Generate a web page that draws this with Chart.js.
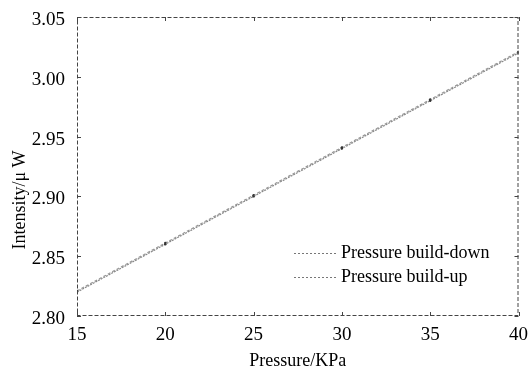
<!DOCTYPE html>
<html>
<head>
<meta charset="utf-8">
<script src="https://cdn.jsdelivr.net/npm/chart.js@4/dist/chart.umd.min.js"></script>
<style>
  html, body { margin: 0; padding: 0; background: #fff; }
  #wrap { width: 528px; height: 372px; }
</style>
</head>
<body>
<div id="wrap"><canvas id="c"></canvas></div>
<script>
const pressure = [15, 20, 25, 30, 35, 40];
const buildDown = [2.820, 2.860, 2.900, 2.940, 2.980, 3.020];
const buildUp = [2.821, 2.861, 2.901, 2.941, 2.981, 3.021];
const seriesNames = ['Pressure build-down', 'Pressure build-up'];
const yTicks = [2.80, 2.85, 2.90, 2.95, 3.00, 3.05];
const yTitle = 'Intensity/\u03bc W';

const FONT = '"Liberation Serif", "DejaVu Serif", serif';

// frame, inward ticks, y title and the legend inside the plot
const framePlugin = {
    id: 'frame',
    afterDraw(chart) {
        const ctx = chart.ctx;
        const a = chart.chartArea;
        const xs = chart.scales.x, ys = chart.scales.y;
        ctx.save();
        ctx.strokeStyle = '#444';
        ctx.lineWidth = 1;
        ctx.setLineDash([4, 2]);
        ctx.strokeRect(a.left + 0.5, a.top + 0.5, a.right - a.left - 1, a.bottom - a.top - 1);
        ctx.setLineDash([]);
        pressure.forEach(v => {
            const px = Math.round(xs.getPixelForValue(v)) + 0.5;
            ctx.beginPath();
            ctx.moveTo(px, a.bottom); ctx.lineTo(px, a.bottom - 4);
            ctx.moveTo(px, a.top); ctx.lineTo(px, a.top + 4);
            ctx.stroke();
        });
        yTicks.forEach(v => {
            const py = Math.round(ys.getPixelForValue(v)) + 0.5;
            ctx.beginPath();
            ctx.moveTo(a.left, py); ctx.lineTo(a.left + 4, py);
            ctx.moveTo(a.right, py); ctx.lineTo(a.right - 4, py);
            ctx.stroke();
        });
        // y axis title, sits a bit below the middle in the original
        ctx.fillStyle = '#000';
        ctx.font = '18px ' + FONT;
        ctx.textAlign = 'center';
        ctx.textBaseline = 'middle';
        ctx.save();
        ctx.translate(20, 200);
        ctx.rotate(-Math.PI / 2);
        ctx.fillText(yTitle, 0, 0);
        ctx.restore();
        // legend
        ctx.font = '18px ' + FONT;
        ctx.textAlign = 'left';
        chart.data.datasets.forEach((ds, i) => {
            const y = 253 + i * 24;
            ctx.strokeStyle = '#777';
            ctx.setLineDash([2, 2]);
            ctx.beginPath();
            ctx.moveTo(294, y + 0.5); ctx.lineTo(338, y + 0.5);
            ctx.stroke();
            ctx.setLineDash([]);
            ctx.fillText(ds.label, 341, y);
        });
        ctx.restore();
    }
};

new Chart(document.getElementById('c'), {
    type: 'line',
    data: {
        datasets: [
            {
                label: seriesNames[0],
                data: pressure.map((x, i) => ({ x: x, y: buildDown[i] })),
                borderColor: '#888',
                borderWidth: 1.2,
                borderDash: [2, 1],
                pointRadius: 1.2,
                pointBackgroundColor: '#333',
                pointBorderWidth: 0,
                tension: 0
            },
            {
                label: seriesNames[1],
                data: pressure.map((x, i) => ({ x: x, y: buildUp[i] })),
                borderColor: '#999',
                borderWidth: 1.2,
                borderDash: [3, 2],
                pointRadius: 1.2,
                pointBackgroundColor: '#333',
                pointBorderWidth: 0,
                tension: 0
            }
        ]
    },
    options: {
        responsive: true,
        maintainAspectRatio: false,
        animation: false,
        layout: { padding: { top: 17, right: 8, left: 0, bottom: 0 } },
        plugins: { legend: { display: false }, tooltip: { enabled: false } },
        scales: {
            x: {
                type: 'linear',
                min: 15, max: 40,
                afterFit(s) { s.height = 56; },
                afterBuildTicks(s) { s.ticks = pressure.map(v => ({ value: v })); },
                grid: { display: false },
                border: { display: false },
                ticks: {
                    color: '#000',
                    font: { family: FONT, size: 19 },
                    padding: 0,
                    maxRotation: 0
                },
                title: {
                    display: true,
                    text: 'Pressure/KPa',
                    color: '#000',
                    font: { family: FONT, size: 18 },
                    padding: { top: 3, bottom: 0 }
                }
            },
            y: {
                type: 'linear',
                min: 2.80, max: 3.05,
                afterFit(s) { s.width = 77; },
                afterBuildTicks(s) { s.ticks = yTicks.map(v => ({ value: v })); },
                grid: { display: false },
                border: { display: false },
                ticks: {
                    color: '#000',
                    font: { family: FONT, size: 19 },
                    padding: 4,
                    labelOffset: 3,
                    callback: v => v.toFixed(2)
                }
            }
        }
    },
    plugins: [framePlugin]
});
</script>
</body>
</html>
